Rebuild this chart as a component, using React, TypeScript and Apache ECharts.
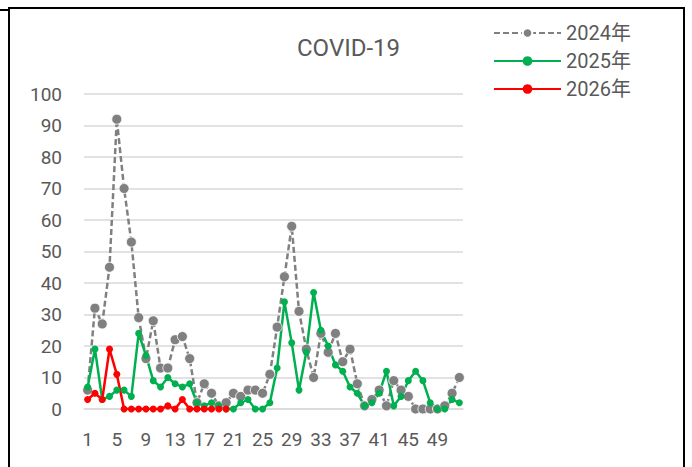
import React, { useEffect, useRef } from "react";
import * as echarts from "echarts";

const weeks: string[] = Array.from({ length: 52 }, (_, i) => String(i + 1));
const seriesNames = ["2024年", "2025年", "2026年"];
const values2024 = [6, 32, 27, 45, 92, 70, 53, 29, 16, 28, 13, 13, 22, 23, 16, 2, 8, 5, 1, 2, 5, 4, 6, 6, 5, 11, 26, 42, 58, 31, 19, 10, 24, 18, 24, 15, 19, 8, 1, 3, 6, 1, 9, 6, 4, 0, 0, 0, 0, 1, 5, 10];
const values2025 = [7, 19, 3, 4, 6, 6, 4, 24, 17, 9, 7, 10, 8, 7, 8, 2, 1, 2, 1, 0, 0, 2, 3, 0, 0, 2, 13, 34, 21, 6, 18, 37, 25, 20, 14, 12, 7, 5, 1, 2, 5, 12, 1, 4, 9, 12, 9, 2, 0, 0, 3, 2];
const values2026 = [3, 5, 3, 19, 11, 0, 0, 0, 0, 0, 0, 1, 0, 3, 0, 0, 0, 0, 0, 0];
const titleText = "COVID-19";

const FONT = "Roboto, 'Noto Sans CJK JP', sans-serif";
const TXT = "#595959";

export default function App() {
  const ref = useRef<HTMLDivElement>(null);
  useEffect(() => {
    if (!ref.current) return;
    const chart = echarts.init(ref.current, null, { renderer: "svg" });
    chart.setOption({
      animation: false,
      backgroundColor: "#ffffff",
      textStyle: { fontFamily: FONT },
      title: {
        text: titleText,
        left: 292,
        top: 31,
        textStyle: { fontFamily: FONT, fontSize: 24, fontWeight: "normal", color: TXT },
      },
      legend: {
        orient: "vertical",
        left: 493,
        top: 23,
        padding: 0,
        itemWidth: 67,
        itemHeight: 12,
        itemGap: 8,
        data: seriesNames,
        textStyle: { fontFamily: FONT, fontSize: 20, color: TXT, lineHeight: 20 },
      },
      grid: { left: 84, right: 229, top: 94, bottom: 58 },
      xAxis: {
        type: "category",
        data: weeks,
        boundaryGap: true,
        axisLine: { show: true, lineStyle: { color: "#d9d9d9", width: 1.5 } },
        axisTick: { show: false },
        axisLabel: { interval: 3, margin: 21, fontFamily: FONT, fontSize: 19, color: TXT },
      },
      yAxis: {
        type: "value",
        min: 0,
        max: 100,
        interval: 10,
        axisLine: { show: false },
        axisTick: { show: false },
        splitLine: { lineStyle: { color: "#d9d9d9", width: 1.5 } },
        axisLabel: { margin: 22, fontFamily: FONT, fontSize: 19, color: TXT },
      },
      series: [
        {
          name: seriesNames[0],
          type: "line",
          data: values2024,
          symbol: "circle",
          symbolSize: 10,
          showAllSymbol: true,
          color: "#808080",
          itemStyle: { color: "#808080", borderColor: "#ffffff", borderWidth: 0.8 },
          lineStyle: { color: "#808080", width: 2.5, type: [6, 3] },
        },
        {
          name: seriesNames[1],
          type: "line",
          data: values2025,
          symbol: "circle",
          symbolSize: 7,
          showAllSymbol: true,
          color: "#00b050",
          itemStyle: { color: "#00b050" },
          lineStyle: { color: "#00b050", width: 2.5 },
        },
        {
          name: seriesNames[2],
          type: "line",
          data: values2026,
          symbol: "circle",
          symbolSize: 7,
          showAllSymbol: true,
          color: "#ff0000",
          itemStyle: { color: "#ff0000" },
          lineStyle: { color: "#ff0000", width: 2.5 },
        },
      ],
      graphic: [
        {
          type: "rect",
          shape: { x: 9, y: 8, width: 675, height: 480 },
          style: { fill: "none", stroke: "#000000", lineWidth: 2 },
          silent: true,
        },
        {
          type: "line",
          shape: { x1: 0, y1: 10, x2: 9, y2: 10 },
          style: { stroke: "#000000", lineWidth: 2 },
          silent: true,
        },
      ],
    });
    return () => chart.dispose();
  }, []);
  return (
    <div
      ref={ref}
      style={{ position: "absolute", left: 0, top: 0, width: 692, height: 467, background: "#fff" }}
    />
  );
}
